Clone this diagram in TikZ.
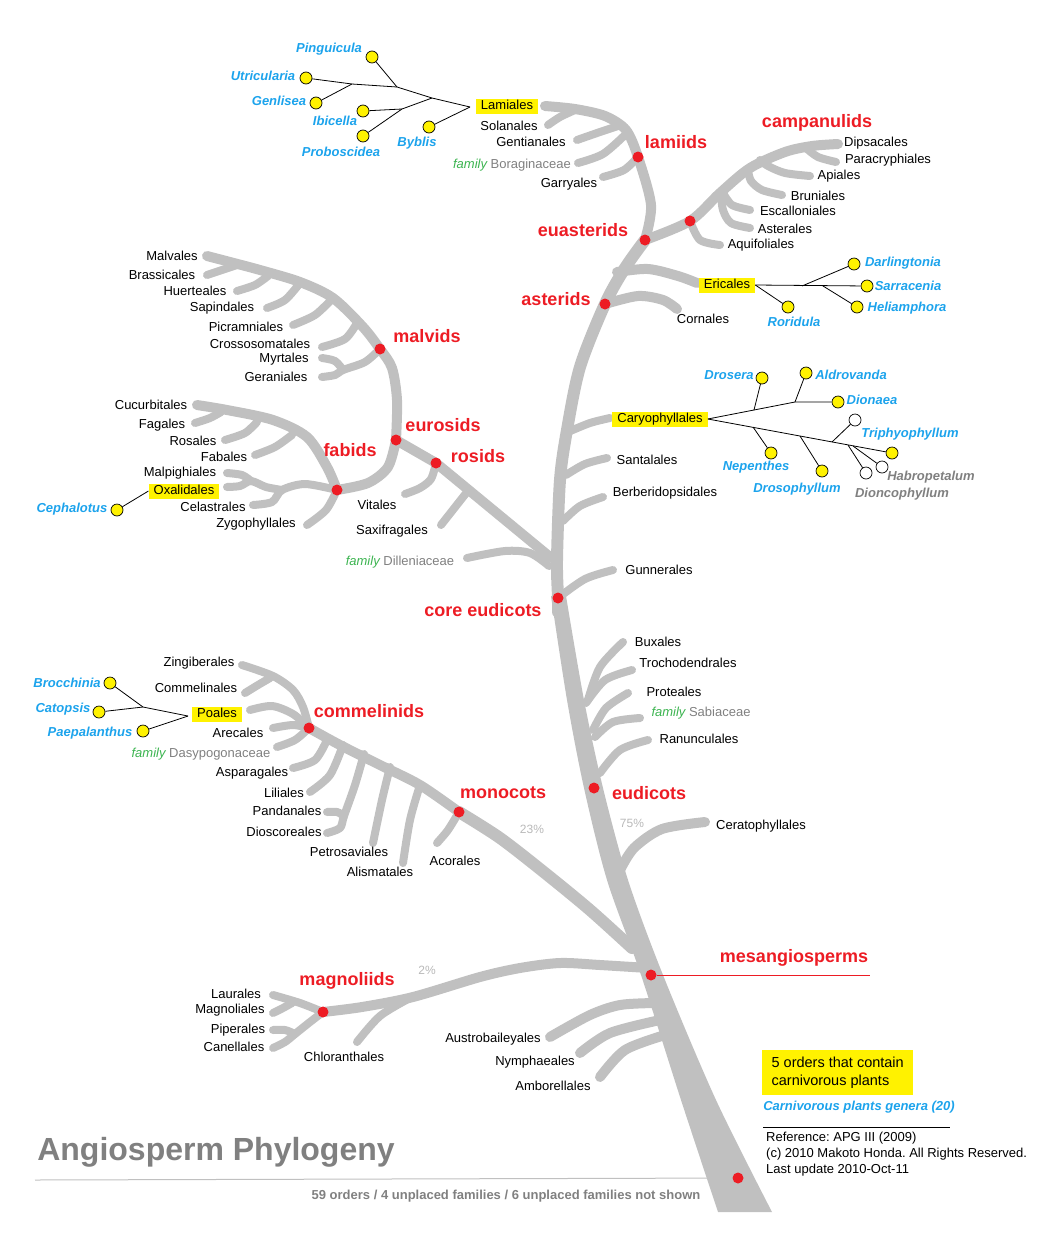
\documentclass[tikz,border=0pt]{standalone}
\usepackage{fontspec}
\setmainfont{Liberation Sans}
\usetikzlibrary{positioning}
\definecolor{brgray}{RGB}{192,192,192}
\definecolor{cladered}{RGB}{237,28,36}
\definecolor{genblue}{RGB}{28,163,236}
\definecolor{famgreen}{RGB}{60,180,80}
\definecolor{famgray}{RGB}{128,128,128}
\definecolor{hlyellow}{RGB}{255,242,0}
\definecolor{pctgray}{RGB}{185,185,185}
\frenchspacing

\begin{document}
\begin{tikzpicture}[
    x=1pt, y=-1pt,
    order/.style={font=\fontsize{13}{15}\selectfont, inner sep=0pt},
    carnord/.style={order, fill=hlyellow, inner xsep=5pt, inner ysep=1pt, text height=10pt, text depth=3pt},
    clade/.style={font=\fontsize{18}{20}\selectfont\bfseries, text=cladered, inner sep=0pt},
    genus/.style={font=\fontsize{13}{15}\selectfont\bfseries\itshape, text=genblue, inner sep=0pt},
    othergen/.style={genus, text=famgray},
    pct/.style={font=\fontsize{12}{14}\selectfont, text=pctgray, inner sep=0pt},
    yeldot/.style={circle, draw=black, fill=hlyellow, minimum size=12pt, inner sep=0pt, line width=0.7pt},
    whtdot/.style={yeldot, fill=white},
    reddot/.style={circle, fill=cladered, minimum size=11pt, inner sep=0pt},
    stem/.style={draw=brgray, line width=12pt, line cap=round, line join=round},
    branch/.style={draw=brgray, line width=10pt, line cap=round, line join=round},
    twig/.style={draw=brgray, line width=8pt, line cap=round, line join=round},
    link/.style={draw=black, line width=0.8pt},
]
\useasboundingbox (0,0) rectangle (1055,1253);

% clade points
\coordinate (lamP) at (638,157);
\coordinate (euaP) at (645,240);
\coordinate (camP) at (690,221);
\coordinate (astP) at (605,304);
\coordinate (malP) at (380,349);
\coordinate (eurP) at (396,440);
\coordinate (rosP) at (436,463);
\coordinate (fabP) at (337,490);
\coordinate (corP) at (558,598);
\coordinate (eudP) at (594,788);
\coordinate (comP) at (309,728);
\coordinate (monP) at (459,812);
\coordinate (mesP) at (651,975);
\coordinate (magP) at (323,1012);
\coordinate (rootP) at (738,1178);

% upper trunk and lamiids
\draw[stem] plot[smooth] coordinates {(558,612) (corP) (557,560) (560,480) (567,430) (580,367) (astP) (625,268) (euaP)};
\draw[branch] plot[smooth] coordinates {(euaP) (651,205) (lamP) (626,130) (605,116) (575,109) (545,106)};
\draw[twig] plot[smooth] coordinates {(548,125) (560,117) (575,110)};
\draw[twig] plot[smooth] coordinates {(577,140) (600,132) (621,125)};
\draw[twig] plot[smooth] coordinates {(578,163) (603,154) (626,134)};
\draw[twig] plot[smooth] coordinates {(603,177) (624,170) (lamP)};

% campanulids
\draw[branch] plot[smooth] coordinates {(euaP) (camP) (720,193) (750,168) (785,152) (812,146) (838,144)};
\draw[twig] plot[smooth] coordinates {(836,162) (818,157) (806,148)};
\draw[twig] plot[smooth] coordinates {(810,176) (785,173) (768,166) (760,160)};
\draw[twig] plot[smooth] coordinates {(782,195) (762,190) (751,181) (748,170)};
\draw[twig] plot[smooth] coordinates {(750,210) (732,205) (723,193)};
\draw[twig] plot[smooth] coordinates {(750,228) (731,223) (723,210) (721,193)};
\draw[twig] plot[smooth] coordinates {(720,245) (700,240) (camP)};

% asterids
\draw[branch] plot[smooth] coordinates {(617,272) (648,269) (678,276) (697,283)};
\draw[branch] plot[smooth] coordinates {(astP) (638,296) (663,300) (677,309)};

% side orders of the trunk
\draw[twig] plot[smooth] coordinates {(568,432) (590,423) (610,418)};
\draw[twig] plot[smooth] coordinates {(566,475) (585,464) (607,458)};
\draw[twig] plot[smooth] coordinates {(563,521) (580,506) (603,497)};
\draw[twig] plot[smooth] coordinates {(corP) (585,579) (613,570)};
\draw[twig] plot[smooth] coordinates {(549,566) (530,553) (505,551) (467,558)};

% rosids
\draw[branch] (550,557) -- (rosP) -- (eurP);
\draw[twig] (467,492) -- (441,525);
\draw[twig] plot[smooth] coordinates {(rosP) (431,479) (420,488) (405,494)};

% malvids
\draw[branch] plot[smooth] coordinates {(eurP) (397,400) (392,368) (malP) (363,327) (333,298) (300,282) (260,270) (230,262) (207,256)};
\draw[twig] plot[smooth] coordinates {(207,275) (225,269) (240,264)};
\draw[twig] plot[smooth] coordinates {(237,291) (255,285) (268,276)};
\draw[twig] plot[smooth] coordinates {(267,308) (285,300) (300,283)};
\draw[twig] plot[smooth] coordinates {(293,325) (315,315) (332,299)};
\draw[twig] plot[smooth] coordinates {(322,347) (345,339) (357,323)};
\draw[twig] plot[smooth] coordinates {(322,358) (335,361) (343,370)};
\draw[twig] plot[smooth] coordinates {(322,377) (335,375) (343,370) (365,362) (malP)};

% fabids
\draw[branch] plot[smooth] coordinates {(eurP) (388,467) (368,483) (fabP)};
\draw[branch] plot[smooth] coordinates {(fabP) (327,467) (307,437) (273,420) (227,410) (197,405)};
\draw[twig] plot[smooth] coordinates {(195,423) (210,418) (221,412)};
\draw[twig] plot[smooth] coordinates {(225,440) (245,433) (257,422)};
\draw[twig] plot[smooth] coordinates {(255,455) (275,447) (292,435)};
\draw[twig] plot[smooth] coordinates {(227,473) (242,475) (251,481)};
\draw[twig] plot[smooth] coordinates {(227,487) (240,486) (251,481) (266,487) (282,490)};
\draw[twig] plot[smooth] coordinates {(253,505) (272,502) (282,490) (305,484) (fabP)};
\draw[twig] plot[smooth] coordinates {(307,525) (326,510) (fabP)};

% monocots
\draw[stem] plot[smooth] coordinates {(632,948) (590,910) (545,873) (500,838) (monP)};
\draw[branch] plot[smooth] coordinates {(monP) (420,785) (380,765) (340,745) (comP)};
\draw[twig] plot[smooth] coordinates {(437,843) (448,830) (monP)};
\draw[twig] plot[smooth] coordinates {(403,863) (410,820) (420,785)};
\draw[twig] plot[smooth] coordinates {(373,843) (382,800) (390,767)};
\draw[twig] plot[smooth] coordinates {(327,812) (337,812) (344,816)};
\draw[twig] plot[smooth] coordinates {(327,833) (340,828) (344,816) (355,785) (364,754)};
\draw[twig] plot[smooth] coordinates {(310,792) (330,775) (343,745)};
\draw[twig] plot[smooth] coordinates {(293,768) (315,760) (327,740)};
\draw[twig] plot[smooth] coordinates {(273,728) (293,725) (comP)};
\draw[twig] plot[smooth] coordinates {(277,747) (295,740) (comP)};
\draw[twig] plot[smooth] coordinates {(250,710) (272,706) (293,714) (comP)};
\draw[twig] plot[smooth] coordinates {(242,665) (273,676) (293,690) (303,707) (comP)};
\draw[twig] plot[smooth] coordinates {(245,693) (258,685) (270,678)};

% basal eudicots
\draw[twig] plot[smooth] coordinates {(623,642) (600,667) (588,700)};
\draw[twig] plot[smooth] coordinates {(632,670) (605,680) (586,703)};
\draw[twig] plot[smooth] coordinates {(628,693) (606,708) (593,730)};
\draw[twig] plot[smooth] coordinates {(640,718) (613,722) (595,737)};
\draw[twig] plot[smooth] coordinates {(648,740) (620,750) (600,773)};
\draw[branch] plot[smooth] coordinates {(705,822) (662,829) (634,848) (620,870)};

% magnoliids
\draw[branch] plot[smooth] coordinates {(648,968) (600,965) (560,963) (520,968) (480,977) (413,997) (362,1007) (magP)};
\draw[twig] plot[smooth] coordinates {(357,1042) (380,1016) (410,998)};
\draw[twig] plot[smooth] coordinates {(273,995) (300,1003) (magP)};
\draw[twig] plot[smooth] coordinates {(273,1013) (283,1008) (292,1003)};
\draw[twig] plot[smooth] coordinates {(273,1030) (285,1030) (295,1034)};
\draw[twig] plot[smooth] coordinates {(273,1048) (285,1042) (295,1034) (310,1022) (magP)};

% basal angiosperms
\draw[branch] plot[smooth] coordinates {(550,1037) (590,1015) (620,1005) (655,1003)};
\draw[branch] plot[smooth] coordinates {(580,1053) (610,1033) (660,1020)};
\draw[branch] plot[smooth] coordinates {(600,1077) (625,1050) (665,1035)};

% lower trunk
\fill[brgray] plot[smooth] coordinates {(551,596) (567,700) (584,788) (607,880) (641,975) (681,1100) (718,1212)}
  -- plot[smooth] coordinates {(772,1212) (716,1100) (663,975) (628,880) (603,788) (584,700) (566,596)} -- cycle;

\foreach \c in {lamP, euaP, camP, astP, malP, eurP, rosP, fabP, corP, eudP, comP, monP, mesP, magP, rootP}
  \node[reddot] (dot_\c) at (\c) {};

\coordinate (mes_end) at (870,975);
\draw[cladered, line width=1pt] (dot_mesP) -- (mes_end);
\coordinate (title_end) at (35,1180);
\draw[brgray, line width=1pt] (title_end) -- (dot_rootP);

% clade names
\node[clade] (lamiids) at (676,142) {lamiids};
\node[clade] (campanulids) at (817,123) {campanulids};
\node[clade] (euasterids) at (583,230) {euasterids};
\node[clade] (asterids) at (556,299) {asterids};
\node[clade] (malvids) at (427,336) {malvids};
\node[clade] (eurosids) at (443,425) {eurosids};
\node[clade] (fabids) at (350,450) {fabids};
\node[clade] (rosids) at (478,456) {rosids};
\node[clade] (core_eud) at (483,610) {core eudicots};
\node[clade] (eudicots) at (649,793) {eudicots};
\node[clade] (commelinids) at (369,711) {commelinids};
\node[clade] (monocots) at (503,793) {monocots};
\node[clade] (mesangio) at (794,958) {mesangiosperms};
\node[clade] (magnoliids) at (347,981) {magnoliids};

\node[pct] (pct_mono) at (532,829) {23\%};
\node[pct] (pct_eud) at (632,823) {75\%};
\node[pct] (pct_mag) at (427,970) {2\%};

% orders
\node[carnord] (lamiales) at (507,106) {Lamiales};
\node[order] (solanales) at (509,126) {Solanales};
\node[order] (gentianales) at (531,142) {Gentianales};
\node[order] (boragin) at (512,165) {\textcolor{famgreen}{\itshape family} \textcolor{famgray}{Boraginaceae}};
\node[order] (garryales) at (569,184) {Garryales};
\node[order] (dipsacales) at (876,143) {Dipsacales};
\node[order] (paracryph) at (888,160) {Paracryphiales};
\node[order] (apiales) at (839,176) {Apiales};
\node[order] (bruniales) at (818,196) {Bruniales};
\node[order] (escallon) at (798,211) {Escalloniales};
\node[order] (asterales) at (785,229) {Asterales};
\node[order] (aquifol) at (761,245) {Aquifoliales};
\node[carnord] (ericales) at (727,285) {Ericales};
\node[order] (cornales) at (703,319) {Cornales};
\node[order] (malvales) at (172,256) {Malvales};
\node[order] (brassic) at (162,275) {Brassicales};
\node[order] (huerteales) at (195,291) {Huerteales};
\node[order] (sapind) at (222,308) {Sapindales};
\node[order] (picramn) at (246,327) {Picramniales};
\node[order] (crossos) at (260,344) {Crossosomatales};
\node[order] (myrtales) at (284,359) {Myrtales};
\node[order] (geraniales) at (276,377) {Geraniales};
\node[order] (cucurb) at (151,405) {Cucurbitales};
\node[order] (fagales) at (162,425) {Fagales};
\node[order] (rosales) at (193,441) {Rosales};
\node[order] (fabales) at (224,457) {Fabales};
\node[order] (malpigh) at (180,473) {Malpighiales};
\node[carnord] (oxalid) at (184,491) {Oxalidales};
\node[order] (celastr) at (213,507) {Celastrales};
\node[order] (zygoph) at (256,524) {Zygophyllales};
\node[order] (vitales) at (377,505) {Vitales};
\node[order] (saxifr) at (392,531) {Saxifragales};
\node[order] (dillen) at (400,562) {\textcolor{famgreen}{\itshape family} \textcolor{famgray}{Dilleniaceae}};
\node[carnord] (caryo) at (660,419) {Caryophyllales};
\node[order] (santal) at (647,460) {Santalales};
\node[order] (berber) at (665,493) {Berberidopsidales};
\node[order] (gunner) at (659,570) {Gunnerales};
\node[order] (buxales) at (658,642) {Buxales};
\node[order] (trochod) at (688,663) {Trochodendrales};
\node[order] (proteales) at (674,692) {Proteales};
\node[order] (sabiac) at (701,713) {\textcolor{famgreen}{\itshape family} \textcolor{famgray}{Sabiaceae}};
\node[order] (ranunc) at (699,739) {Ranunculales};
\node[order] (ceratoph) at (761,826) {Ceratophyllales};
\node[order] (zingib) at (199,663) {Zingiberales};
\node[order] (commelin) at (196,688) {Commelinales};
\node[carnord] (poales) at (217,714) {Poales};
\node[order] (arecales) at (238,733) {Arecales};
\node[order] (dasypog) at (201,754) {\textcolor{famgreen}{\itshape family} \textcolor{famgray}{Dasypogonaceae}};
\node[order] (asparag) at (252,773) {Asparagales};
\node[order] (liliales) at (284,793) {Liliales};
\node[order] (pandan) at (287,811) {Pandanales};
\node[order] (dioscor) at (284,832) {Dioscoreales};
\node[order] (petros) at (349,852) {Petrosaviales};
\node[order] (alismat) at (380,872) {Alismatales};
\node[order] (acorales) at (455,861) {Acorales};
\node[order] (laurales) at (236,994) {Laurales};
\node[order] (magnol) at (230,1010) {Magnoliales};
\node[order] (piper) at (238,1030) {Piperales};
\node[order] (canell) at (234,1047) {Canellales};
\node[order] (chloran) at (344,1057) {Chloranthales};
\node[order] (austrob) at (493,1039) {Austrobaileyales};
\node[order] (nymph) at (535,1062) {Nymphaeales};
\node[order] (amborell) at (553,1086) {Amborellales};

% carnivorous genera: Lamiales
\node[yeldot] (pinguicula) at (372,57) {};
\node[yeldot] (utricularia) at (306,78) {};
\node[yeldot] (genlisea) at (316,103) {};
\node[yeldot] (ibicella) at (363,111) {};
\node[yeldot] (proboscidea) at (363,136) {};
\node[yeldot] (byblis) at (429,127) {};
\node[genus] (pinguicula_txt) at (329,49) {Pinguicula};
\node[genus] (utricularia_txt) at (263,76) {Utricularia};
\node[genus] (genlisea_txt) at (279,101) {Genlisea};
\node[genus] (ibicella_txt) at (335,121) {Ibicella};
\node[genus] (proboscidea_txt) at (341,152) {Proboscidea};
\node[genus] (byblis_txt) at (417,143) {Byblis};
\coordinate (lam_tip) at (470,107);
\coordinate (lam_j1) at (432,98);
\coordinate (lam_j2) at (397,87);
\coordinate (lam_j3) at (352,84);
\coordinate (lam_j4) at (402,109);
\draw[link] (lam_tip) -- (lam_j1) -- (lam_j2) -- (lam_j3) -- (utricularia);
\draw[link] (lam_j2) -- (pinguicula);
\draw[link] (lam_j3) -- (genlisea);
\draw[link] (lam_j1) -- (lam_j4) -- (ibicella);
\draw[link] (lam_j4) -- (proboscidea);
\draw[link] (lam_tip) -- (byblis);

% Ericales
\node[yeldot] (darlingtonia) at (854,264) {};
\node[yeldot] (sarracenia) at (867,286) {};
\node[yeldot] (heliamphora) at (857,307) {};
\node[yeldot] (roridula) at (788,307) {};
\node[genus] (darlingtonia_txt) at (903,263) {Darlingtonia};
\node[genus] (sarracenia_txt) at (908,286) {Sarracenia};
\node[genus] (heliamphora_txt) at (907,308) {Heliamphora};
\node[genus] (roridula_txt) at (794,322) {Roridula};
\coordinate (eri_j1) at (802,286);
\coordinate (eri_j2) at (823,286);
\draw[link] (ericales.east) -- (sarracenia);
\draw[link] (ericales.east) -- (roridula);
\draw[link] (eri_j1) -- (darlingtonia);
\draw[link] (eri_j2) -- (heliamphora);

% Caryophyllales
\node[yeldot] (drosera) at (762,378) {};
\node[yeldot] (aldrovanda) at (806,373) {};
\node[yeldot] (dionaea) at (838,402) {};
\node[whtdot] (dionc_a) at (855,420) {};
\node[yeldot] (triphyo) at (892,453) {};
\node[yeldot] (nepenthes) at (771,453) {};
\node[yeldot] (drosophyllum) at (822,471) {};
\node[whtdot] (dioncoph) at (866,473) {};
\node[whtdot] (habropet) at (882,467) {};
\node[genus] (drosera_txt) at (729,375) {Drosera};
\node[genus] (aldrovanda_txt) at (851,375) {Aldrovanda};
\node[genus] (dionaea_txt) at (872,400) {Dionaea};
\node[genus] (triphyo_txt) at (910,434) {Triphyophyllum};
\node[genus] (nepenthes_txt) at (756,467) {Nepenthes};
\node[genus] (drosophyllum_txt) at (797,489) {Drosophyllum};
\node[othergen] (habropet_txt) at (931,477) {Habropetalum};
\node[othergen] (dioncoph_txt) at (902,494) {Dioncophyllum};
\coordinate (car_u1) at (754,410);
\coordinate (car_u2) at (795,402);
\coordinate (car_l1) at (753,427);
\coordinate (car_l2) at (800,436);
\coordinate (car_l3) at (832,442);
\coordinate (car_l4) at (848,445);
\coordinate (car_l5) at (853,446);
\draw[link] (caryo.east) -- (car_u2) -- (dionaea);
\draw[link] (car_u1) -- (drosera);
\draw[link] (car_u2) -- (aldrovanda);
\draw[link] (caryo.east) -- (triphyo);
\draw[link] (car_l1) -- (nepenthes);
\draw[link] (car_l2) -- (drosophyllum);
\draw[link] (car_l3) -- (dionc_a);
\draw[link] (car_l4) -- (dioncoph);
\draw[link] (car_l5) -- (habropet);

% Oxalidales
\node[yeldot] (cephalotus) at (117,510) {};
\node[genus] (cephalotus_txt) at (72,509) {Cephalotus};
\draw[link] (oxalid.west) -- (cephalotus);

% Poales
\node[yeldot] (brocchinia) at (110,683) {};
\node[yeldot] (catopsis) at (99,712) {};
\node[yeldot] (paepalanthus) at (143,731) {};
\node[genus] (brocchinia_txt) at (67,683) {Brocchinia};
\node[genus] (catopsis_txt) at (63,709) {Catopsis};
\node[genus] (paepalanthus_txt) at (90,733) {Paepalanthus};
\coordinate (poa_tip) at (188,716);
\coordinate (poa_j1) at (143,707);
\draw[link] (poa_tip) -- (poa_j1) -- (catopsis);
\draw[link] (poa_j1) -- (brocchinia);
\draw[link] (poa_tip) -- (paepalanthus);

% legend and credits
\node[fill=hlyellow, anchor=north west, minimum width=151pt, minimum height=45pt, align=left,
      font=\fontsize{14.5}{18}\selectfont] (legend) at (762,1050) {5 orders that contain\\carnivorous plants};
\node[genus] (genera_note) at (859,1107) {Carnivorous plants genera (20)};
\coordinate (rule_l) at (763,1127);
\coordinate (rule_r) at (950,1127);
\draw[black, line width=1pt] (rule_l) -- (rule_r);
\node[anchor=north west, align=left, inner sep=0pt, font=\fontsize{13}{16}\selectfont] (credits) at (766,1132)
  {Reference: APG III (2009)\\(c) 2010 Makoto Honda. All Rights Reserved.\\Last update 2010-Oct-11};

\node[font=\fontsize{32}{36}\selectfont\bfseries, text=famgray, inner sep=0pt] (title) at (216,1152) {Angiosperm Phylogeny};
\node[font=\fontsize{13}{15}\selectfont\bfseries, text=famgray, inner sep=0pt] (count_note) at (506,1196)
  {59 orders / 4 unplaced families / 6 unplaced families not shown};

\end{tikzpicture}
\end{document}
